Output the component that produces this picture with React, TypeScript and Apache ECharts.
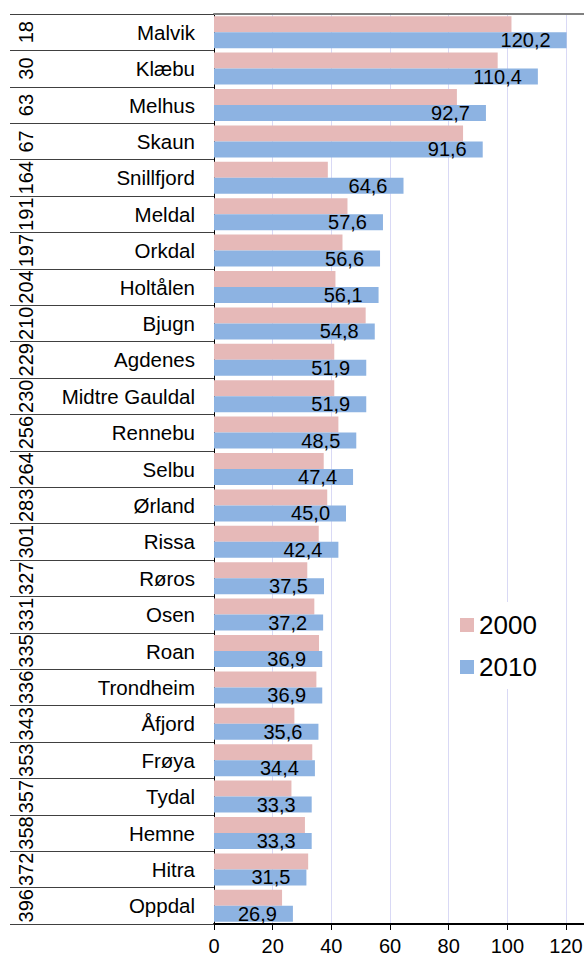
import React, { useEffect, useRef } from "react";
import * as echarts from "echarts";

const categories = [
  "Malvik", "Klæbu", "Melhus", "Skaun", "Snillfjord", "Meldal", "Orkdal", "Holtålen",
  "Bjugn", "Agdenes", "Midtre Gauldal", "Rennebu", "Selbu", "Ørland", "Rissa", "Røros",
  "Osen", "Roan", "Trondheim", "Åfjord", "Frøya", "Tydal", "Hemne", "Hitra", "Oppdal",
];
const ranks = [
  "18", "30", "63", "67", "164", "191", "197", "204", "210", "229", "230", "256", "264",
  "283", "301", "327", "331", "335", "336", "343", "353", "357", "358", "372", "396",
];
const values2000 = [
  101.4, 96.7, 82.8, 84.9, 38.8, 45.5, 43.8, 41.4, 51.7, 41.0, 41.0, 42.4, 37.4, 38.6,
  35.7, 31.8, 34.2, 35.8, 34.9, 27.4, 33.5, 26.4, 31.0, 32.1, 23.2,
];
const values2010 = [
  120.2, 110.4, 92.7, 91.6, 64.6, 57.6, 56.6, 56.1, 54.8, 51.9, 51.9, 48.5, 47.4, 45.0,
  42.4, 37.5, 37.2, 36.9, 36.9, 35.6, 34.4, 33.3, 33.3, 31.5, 26.9,
];
const seriesNames = ["2000", "2010"];
const xTicks = { min: 0, max: 140, interval: 20 };

const FONT = "'Liberation Sans', Arial, sans-serif";

export default function App() {
  const ref = useRef<HTMLDivElement>(null);
  useEffect(() => {
    if (!ref.current) return;
    const chart = echarts.init(ref.current, null, { renderer: "svg" });
    chart.setOption({
      animation: false,
      backgroundColor: "#ffffff",
      textStyle: { fontFamily: FONT },
      grid: { left: 214, top: 14, width: 410.7, height: 910, containLabel: false },
      legend: {
        orient: "vertical",
        left: 455,
        top: 602,
        padding: [10, 6, 9, 5],
        backgroundColor: "#ffffff",
        itemWidth: 14,
        itemHeight: 14,
        itemGap: 16,
        icon: "rect",
        data: seriesNames,
        textStyle: { fontSize: 26, color: "#000", fontFamily: FONT },
      },
      xAxis: [
        {
          type: "value",
          position: "bottom",
          min: xTicks.min,
          max: xTicks.max,
          interval: xTicks.interval,
          axisLine: { show: true, lineStyle: { color: "#000", width: 2 } },
          axisTick: { show: true, length: 6, lineStyle: { color: "#000" } },
          axisLabel: { fontSize: 20, color: "#000", margin: 12, fontFamily: FONT, showMaxLabel: false },
          splitLine: { show: true, lineStyle: { color: "#d9d9f5", width: 1 } },
        },
        {
          type: "value",
          position: "top",
          min: xTicks.min,
          max: xTicks.max,
          interval: xTicks.interval,
          axisLine: { show: true, lineStyle: { color: "#808080", width: 2 } },
          axisTick: { show: false },
          axisLabel: { show: false },
          splitLine: { show: false },
        },
      ],
      yAxis: [
        {
          type: "category",
          inverse: true,
          data: categories,
          position: "left",
          axisLine: { show: true, lineStyle: { color: "#000", width: 1 } },
          axisTick: { show: true, length: 204, lineStyle: { color: "#404040", width: 1 } },
          axisLabel: { interval: 0, fontSize: 20.5, color: "#000", margin: 19, fontFamily: FONT },
          splitLine: { show: false },
        },
        {
          type: "category",
          inverse: true,
          data: ranks,
          position: "left",
          offset: 178,
          axisLine: { show: false },
          axisTick: { show: false },
          axisLabel: { interval: 0, rotate: 90, fontSize: 20, color: "#000", margin: 0, fontFamily: FONT },
          splitLine: { show: false },
        },
      ],
      series: [
        {
          name: seriesNames[0],
          type: "bar",
          xAxisIndex: 0,
          yAxisIndex: 0,
          data: values2000,
          barGap: "0%",
          barCategoryGap: "12%",
          itemStyle: { color: "#e6b9b8" },
        },
        {
          name: seriesNames[1],
          type: "bar",
          xAxisIndex: 0,
          yAxisIndex: 0,
          data: values2010,
          barGap: "0%",
          barCategoryGap: "12%",
          itemStyle: { color: "#8db3e2" },
          label: {
            show: true,
            position: "insideRight",
            distance: 16,
            fontSize: 20,
            color: "#000",
            fontFamily: FONT,
            formatter: (p: any) => Number(p.value).toFixed(1).replace(".", ","),
          },
        },
      ],
    });
    return () => chart.dispose();
  }, []);
  return (
    <div style={{ position: "absolute", left: 0, top: 0, width: 584, height: 961, overflow: "hidden", background: "#fff" }}>
      <div ref={ref} style={{ width: 650, height: 961 }} />
    </div>
  );
}
